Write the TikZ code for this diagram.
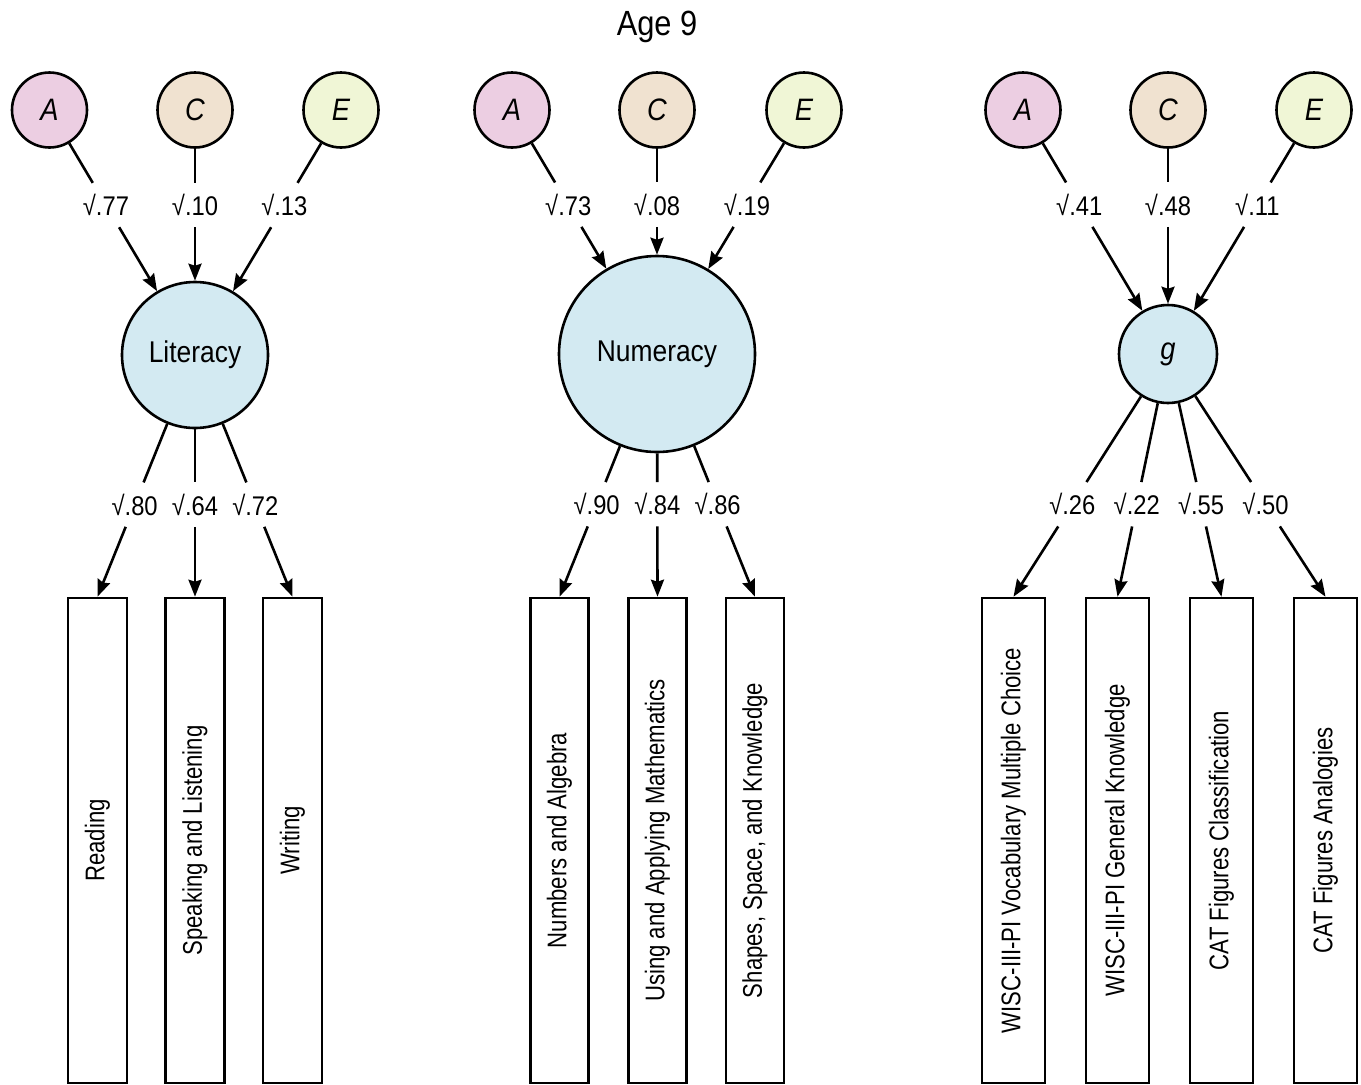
\documentclass[tikz,border=0pt]{standalone}
\usepackage{fontspec}
\setmainfont{Liberation Sans}[FakeStretch=0.88]
\newfontfamily\boxfont{Liberation Sans}[FakeStretch=0.82]
\usetikzlibrary{arrows.meta,calc}
\definecolor{cA}{RGB}{236,206,226}
\definecolor{cC}{RGB}{240,226,208}
\definecolor{cE}{RGB}{240,246,214}
\definecolor{cL}{RGB}{211,234,242}
\begin{document}
\begin{tikzpicture}[x=1pt,y=-1pt,
  every node/.style={font=\fontsize{27}{31}\selectfont},
  ace/.style={circle,draw,line width=2.6pt,minimum size=75pt,inner sep=0pt,font=\fontsize{31}{35}\selectfont\itshape},
  lat/.style={circle,draw,line width=2.6pt,fill=cL,inner sep=0pt,font=\fontsize{30}{34}\selectfont},
  obs/.style={draw,line width=2.6pt,minimum height=485pt,inner sep=0pt,font=\fontsize{27}{31}\boxfont},
  lab/.style={inner sep=0pt,minimum height=44pt,minimum width=36pt},
  conn/.style={line width=2.6pt},
  arr/.style={conn,-{Stealth[length=17pt,width=13pt,inset=2pt]}}
]
\useasboundingbox (0,0) rectangle (1361,1085);
\node[font=\fontsize{35}{40}\selectfont] (title) at (657,27) {Age 9};

% ---------- Group 1: Literacy ----------
\node[ace,fill=cA] (A1) at (49.5,110) {A};
\node[ace,fill=cC] (C1) at (195,110) {C};
\node[ace,fill=cE] (E1) at (341,110) {E};
\node[lat,minimum size=146pt] (L1) at (195,355) {Literacy};
\node[obs,minimum width=59pt] (B11) at (97.5,840.5) {\rotatebox{90}{Reading}};
\node[obs,minimum width=59pt] (B12) at (195,840.5) {\rotatebox{90}{Speaking and Listening}};
\node[obs,minimum width=59pt] (B13) at (292.5,840.5) {\rotatebox{90}{Writing}};

% ---------- Group 2: Numeracy ----------
\node[ace,fill=cA] (A2) at (512,110) {A};
\node[ace,fill=cC] (C2) at (657,110) {C};
\node[ace,fill=cE] (E2) at (804,110) {E};
\node[lat,minimum size=196pt] (L2) at (657,354) {Numeracy};
\node[obs,minimum width=58pt] (B21) at (559.5,840.5) {\rotatebox{90}{Numbers and Algebra}};
\node[obs,minimum width=58pt] (B22) at (657.5,840.5) {\rotatebox{90}{Using and Applying Mathematics}};
\node[obs,minimum width=58pt] (B23) at (755,840.5) {\rotatebox{90}{Shapes, Space, and Knowledge}};

% ---------- Group 3: g ----------
\node[ace,fill=cA] (A3) at (1023,110) {A};
\node[ace,fill=cC] (C3) at (1168,110) {C};
\node[ace,fill=cE] (E3) at (1314,110) {E};
\node[lat,minimum size=98pt,font=\fontsize{31}{35}\selectfont\itshape] (L3) at (1168,354) {g};
\node[obs,minimum width=63pt] (B31) at (1013.5,840.5) {\rotatebox{90}{WISC-III-PI Vocabulary Multiple Choice}};
\node[obs,minimum width=63pt] (B32) at (1117.5,840.5) {\rotatebox{90}{WISC-III-PI General Knowledge}};
\node[obs,minimum width=63pt] (B33) at (1221.5,840.5) {\rotatebox{90}{CAT Figures Classification}};
\node[obs,minimum width=63pt] (B34) at (1325.5,840.5) {\rotatebox{90}{CAT Figures Analogies}};

% ---------- ACE paths ----------
\foreach \src/\dst/\v/\n in {A1/L1/.77/t11, C1/L1/.10/t12, E1/L1/.13/t13,
                            A2/L2/.73/t21, C2/L2/.08/t22, E2/L2/.19/t23,
                            A3/L3/.41/t31, C3/L3/.48/t32, E3/L3/.11/t33}{
  \node[lab] (\n) at ($(\src)!0.388!(\dst)$) {√\v};
  \draw[conn] (\src) -- (\n);
  \draw[arr] (\n) -- (\dst);
}

% ---------- loadings ----------
\foreach \src/\dst/\v/\n in {L1/B11/.80/u11, L1/B12/.64/u12, L1/B13/.72/u13,
                            L2/B21/.90/u21, L2/B22/.84/u22, L2/B23/.86/u23,
                            L3/B31/.26/u31, L3/B32/.22/u32, L3/B33/.55/u33, L3/B34/.50/u34}{
  \node[lab] (\n) at ($(\src)!0.619!(\dst.north)$) {√\v};
  \draw[conn] (\src) -- (\n);
  \draw[arr] (\n) -- (\dst.north);
}
\end{tikzpicture}
\end{document}
